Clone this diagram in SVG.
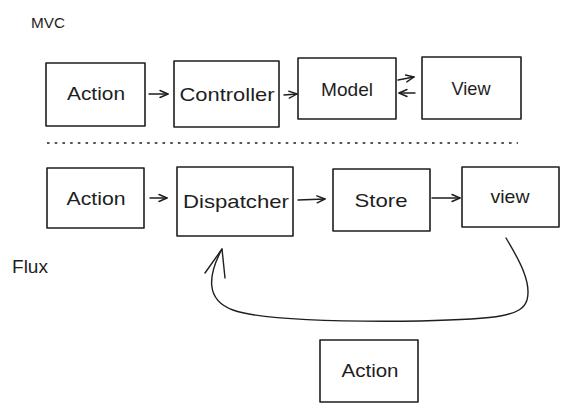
<svg xmlns="http://www.w3.org/2000/svg" width="569" height="410" viewBox="0 0 569 410">
<style>
  .box { fill: #ffffff; stroke: #1e1e1e; stroke-width: 1.6; stroke-linejoin: round; }
  .lbl { font-family: "Liberation Sans", "DejaVu Sans", sans-serif; font-size: 19px; fill: #1e1e1e; text-anchor: middle; }
  .title { font-family: "Liberation Sans", "DejaVu Sans", sans-serif; fill: #1e1e1e; }
  .conn { fill: none; stroke: #1e1e1e; stroke-width: 1.4; stroke-linecap: round; stroke-linejoin: round; }
  .sep { fill: none; stroke: #1e1e1e; stroke-width: 1.3; stroke-dasharray: 2.6 5.1; }
</style>
<defs>
  <marker id="ah" markerUnits="userSpaceOnUse" markerWidth="14" markerHeight="12" refX="9" refY="5" orient="auto">
    <path d="M1,1.5 L9,5 L1,8.5" fill="none" stroke="#1e1e1e" stroke-width="1.4" stroke-linecap="round" stroke-linejoin="round"/>
  </marker>
</defs>
<rect width="569" height="410" fill="#ffffff"/>

<text class="title" x="31" y="28" font-size="15" textLength="34" lengthAdjust="spacingAndGlyphs">MVC</text>
<text class="title" x="12" y="273" font-size="18" textLength="36" lengthAdjust="spacingAndGlyphs">Flux</text>

<path class="sep" d="M47,143 L518,143"/>

<g id="mvc-action">
  <rect class="box" x="46" y="63" width="99" height="63"/>
  <text class="lbl" x="96" y="100" textLength="58" lengthAdjust="spacingAndGlyphs">Action</text>
</g>
<g id="mvc-controller">
  <rect class="box" x="174" y="61" width="105" height="66"/>
  <text class="lbl" x="227" y="101" textLength="95" lengthAdjust="spacingAndGlyphs">Controller</text>
</g>
<g id="mvc-model">
  <rect class="box" x="298" y="58" width="98" height="61"/>
  <text class="lbl" x="347" y="96" textLength="52" lengthAdjust="spacingAndGlyphs">Model</text>
</g>
<g id="mvc-view">
  <rect class="box" x="422" y="57" width="99" height="62"/>
  <text class="lbl" x="471" y="95" textLength="39" lengthAdjust="spacingAndGlyphs">View</text>
</g>

<g id="flux-action">
  <rect class="box" x="47" y="168" width="97" height="60"/>
  <text class="lbl" x="96" y="205" textLength="59" lengthAdjust="spacingAndGlyphs">Action</text>
</g>
<g id="flux-dispatcher">
  <rect class="box" x="177" y="167" width="116" height="69"/>
  <text class="lbl" x="236" y="208" textLength="106" lengthAdjust="spacingAndGlyphs">Dispatcher</text>
</g>
<g id="flux-store">
  <rect class="box" x="333" y="169" width="97" height="62"/>
  <text class="lbl" x="381" y="207" textLength="53" lengthAdjust="spacingAndGlyphs">Store</text>
</g>
<g id="flux-view">
  <rect class="box" x="462" y="167" width="97" height="60"/>
  <text class="lbl" x="510" y="203" textLength="39" lengthAdjust="spacingAndGlyphs">view</text>
</g>
<g id="flux-action-2">
  <rect class="box" x="320" y="340" width="98" height="62"/>
  <text class="lbl" x="370" y="377" textLength="57" lengthAdjust="spacingAndGlyphs">Action</text>
</g>

<g id="connectors">
  <path class="conn" d="M149,94 L168,94" marker-end="url(#ah)"/>
  <path class="conn" d="M284,95 L297,94" marker-end="url(#ah)"/>
  <path class="conn" d="M398,80 L414,77" marker-end="url(#ah)"/>
  <path class="conn" d="M415,93 L399,93" marker-end="url(#ah)"/>
  <path class="conn" d="M150,198 L167,198" marker-end="url(#ah)"/>
  <path class="conn" d="M298,200 L325,199" marker-end="url(#ah)"/>
  <path class="conn" d="M432,198 L460,198" marker-end="url(#ah)"/>
  <path class="conn" d="M506,238 C518,258 532,282 527,300 C522,316 500,319 420,321 C330,322 260,320 233,310 C205,300 208,275 222,249"/>
  <path class="conn" d="M205,273 L222,249 L225,278"/>
</g>
</svg>
